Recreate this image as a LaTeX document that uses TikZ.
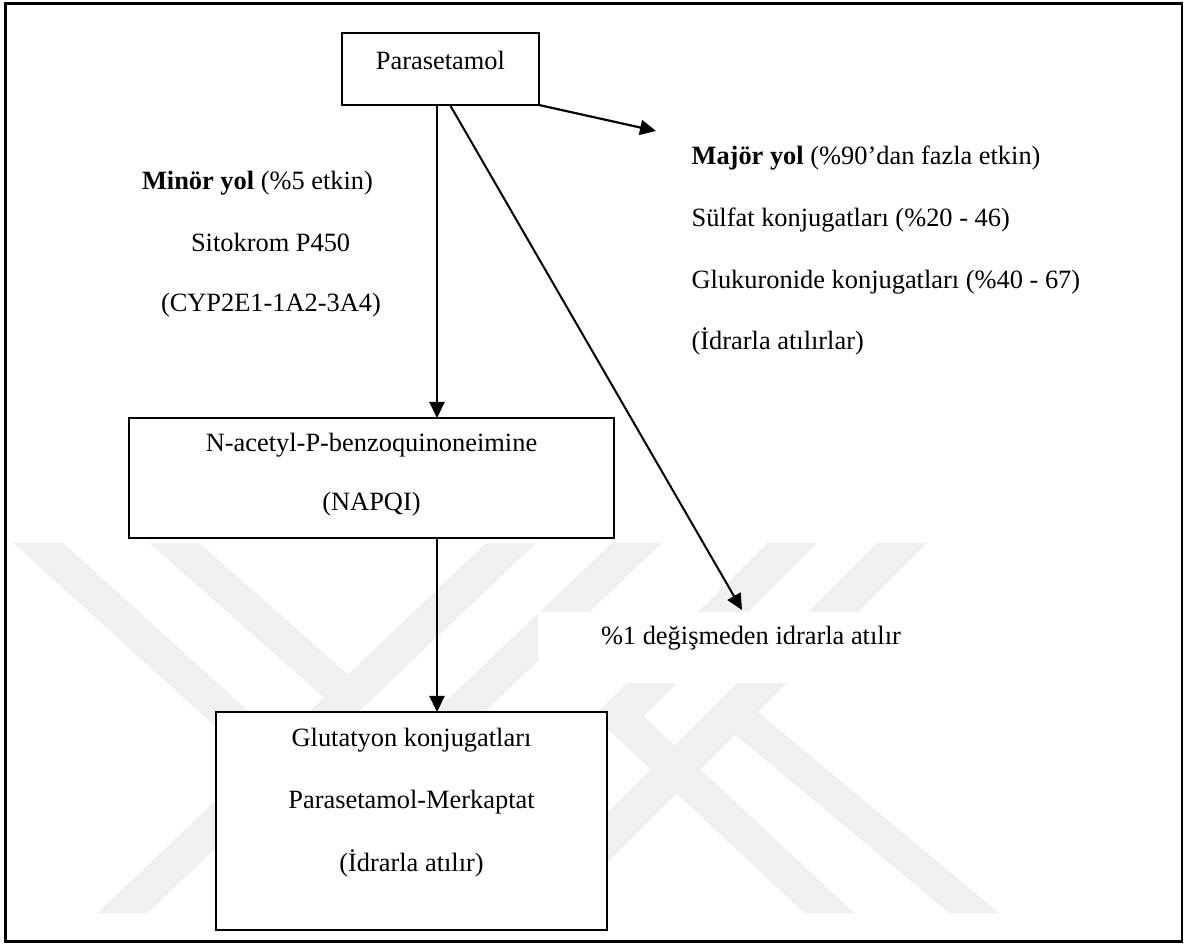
\documentclass[tikz,border=0pt]{standalone}
\usepackage{fontspec}
\setmainfont{Liberation Serif}
\usetikzlibrary{arrows.meta}
\begin{document}
\begin{tikzpicture}[x=0.5pt,y=-0.5pt,
  box/.style={draw=black, line width=0.9pt, fill=white, inner sep=0pt, outer sep=0pt},
  lbl/.style={inner sep=0pt, outer sep=0pt, font=\fontsize{13.2pt}{15pt}\selectfont},
  arr/.style={line width=1.1pt, -{Triangle[length=8pt,width=7.5pt]}},
  wm/.style={fill=black!6, draw=none}]
\useasboundingbox (0,0) rectangle (1188,945);
% faint watermark
\begin{scope}
\clip (0,543) rectangle (1188,913);
\fill[wm] (13.3,543) -- (63.3,543) -- (292.3,751.2) -- (268,774.5) -- cycle;
\fill[wm] (149.3,543) -- (199.3,543) -- (360.9,686) -- (336.8,708.9) -- cycle;
\fill[wm] (486,543) -- (536,543) -- (147.5,913) -- (97.5,913) -- cycle;
\fill[wm] (611.9,543) -- (661.9,543) -- (434,760) -- (384,760) -- cycle;
\fill[wm] (767,543) -- (817,543) -- (619.6,740.4) -- (593.8,716.2) -- cycle;
\fill[wm] (593.8,716.2) -- (617.9,692.1) -- (854.3,913) -- (804.3,913) -- cycle;
\fill[wm] (877,543) -- (927,543) -- (570,900) -- (520,900) -- cycle;
\fill[wm] (721.6,723.4) -- (744.3,700.7) -- (999.1,913) -- (949.1,913) -- cycle;
\end{scope}
\fill[white] (538,612) rectangle (1000,683);
% boxes
\node[box, minimum width=98.5pt, minimum height=36pt] (P) at (440.5,69) {};
\node[box, minimum width=242.5pt, minimum height=60pt] (N) at (371.5,478) {};
\node[box, minimum width=195.5pt, minimum height=109pt] (G) at (411.5,821) {};
% texts
\node[lbl, anchor=base] (tP) at (440.5,70) {Parasetamol};
\node[lbl, anchor=base west] (m1) at (142,190) {\textbf{Minör yol} (\%5 etkin)};
\node[lbl, anchor=base west] (m2) at (191,252) {Sitokrom P450};
\node[lbl, anchor=base west] (m3) at (161,312) {(CYP2E1-1A2-3A4)};
\node[lbl, anchor=base west] (j1) at (691.6,165) {\textbf{Majör yol} (\%90’dan fazla etkin)};
\node[lbl, anchor=base west] (j2) at (691.6,227) {Sülfat konjugatları (\%20 - 46)};
\node[lbl, anchor=base west] (j3) at (691.6,289) {Glukuronide konjugatları (\%40 - 67)};
\node[lbl, anchor=base west] (j4) at (691.6,350) {(İdrarla atılırlar)};
\node[lbl, anchor=base] (n1) at (371.5,452) {N-acetyl-P-benzoquinoneimine};
\node[lbl, anchor=base] (n2) at (371.5,510.5) {(NAPQI)};
\node[lbl, anchor=base] (g1) at (411.5,746.5) {Glutatyon konjugatları};
\node[lbl, anchor=base] (g2) at (411.5,808) {Parasetamol-Merkaptat};
\node[lbl, anchor=base] (g3) at (411.5,871.5) {(İdrarla atılır)};
\node[lbl, anchor=base west] (u1) at (601,645) {\%1 değişmeden idrarla atılır};
% connectors
\coordinate (cx1) at (437,0);
\coordinate (cx2) at (450,0);
\coordinate (tdiag) at (742,610);
\coordinate (tright) at (656,131);
\draw[arr] (P.south -| cx1) -- (N.north -| cx1);
\draw[arr, line width=1pt] (P.south -| cx2) -- (tdiag);
\draw[arr] (P.south east) -- (tright);
\draw[arr] (N.south -| cx1) -- (G.north -| cx1);
% outer frame
\draw[line width=1.2pt] (5.5,3.5) rectangle (1182,941.5);
\end{tikzpicture}
\end{document}
